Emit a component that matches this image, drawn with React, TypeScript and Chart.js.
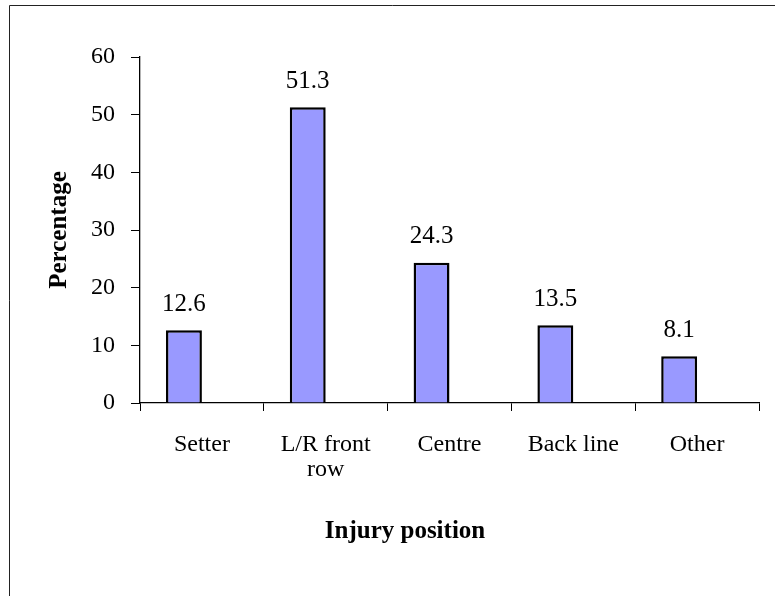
import React, { useEffect, useRef } from "react";
import { Chart, registerables } from "chart.js";

Chart.register(...registerables);

const categories: (string | string[])[] = ["Setter", ["L/R front", "row"], "Centre", "Back line", "Other"];
const percentages: number[] = [12.6, 51.3, 24.3, 13.5, 8.1];
const emptySeries: (number | null)[] = [null, null, null, null, null];
const yMin = 0;
const yMax = 60;
const yStep = 10;
const xTitle = "Injury position";
const yTitle = "Percentage";

const FONT = "'Liberation Serif', 'Times New Roman', serif";

const decorPlugin = {
  id: "decor",
  afterDraw(chart: any) {
    const ctx = chart.ctx;
    const area = chart.chartArea;
    ctx.save();
    // frame lines (left and top)
    ctx.strokeStyle = "#222";
    ctx.lineWidth = 1;
    ctx.beginPath();
    ctx.moveTo(9.5, chart.height);
    ctx.lineTo(9.5, 5.5);
    ctx.lineTo(chart.width, 5.5);
    ctx.stroke();

    // data labels
    const meta = chart.getDatasetMeta(0);
    ctx.fillStyle = "#000";
    ctx.font = `25px ${FONT}`;
    ctx.textAlign = "center";
    ctx.textBaseline = "middle";
    meta.data.forEach((bar: any, i: number) => {
      const v = chart.data.datasets[0].data[i];
      ctx.fillText(String(v), bar.x, bar.y - 26);
    });

    // axis titles
    ctx.font = `bold 25px ${FONT}`;
    ctx.fillText(xTitle, 405, 532);
    ctx.translate(60, (area.top + area.bottom) / 2);
    ctx.rotate(-Math.PI / 2);
    ctx.fillText(yTitle, 0, 0);
    ctx.restore();
  },
};

export default function App() {
  const ref = useRef<HTMLCanvasElement | null>(null);

  useEffect(() => {
    document.body.style.margin = "0";
    const canvas = ref.current;
    if (!canvas) return;
    const chart = new Chart(canvas, {
      type: "bar",
      data: {
        labels: categories,
        datasets: [
          {
            data: percentages,
            backgroundColor: "#9999FF",
            borderColor: "#000000",
            borderWidth: 2.5,
            categoryPercentage: 0.58,
            barPercentage: 1,
          },
          {
            data: emptySeries,
            backgroundColor: "#9999FF",
            borderColor: "#000000",
            borderWidth: 2.5,
            categoryPercentage: 0.58,
            barPercentage: 1,
          },
        ],
      },
      options: {
        responsive: false,
        animation: false,
        devicePixelRatio: 1,
        layout: { padding: { top: 57, right: 16, left: 0, bottom: 0 } },
        plugins: {
          legend: { display: false },
          tooltip: { enabled: false },
          title: { display: false },
        },
        scales: {
          x: {
            offset: true,
            afterFit(scale: any) {
              scale.height = 193;
            },
            grid: {
              display: true,
              drawOnChartArea: false,
              drawTicks: true,
              tickLength: 8,
              color: "#000",
              offset: true,
            },
            border: { display: true, color: "#000", width: 1.3 },
            ticks: {
              color: "#000",
              font: { family: FONT, size: 24, lineHeight: 1.05 },
              padding: 21,
              maxRotation: 0,
              autoSkip: false,
            },
          },
          y: {
            min: yMin,
            max: yMax,
            afterFit(scale: any) {
              scale.width = 140;
            },
            grid: {
              display: true,
              drawOnChartArea: false,
              drawTicks: true,
              tickLength: 9,
              color: "#000",
            },
            border: { display: true, color: "#000", width: 1.3 },
            ticks: {
              stepSize: yStep,
              color: "#000",
              font: { family: FONT, size: 24 },
              padding: 16,
            },
          },
        },
      },
      plugins: [decorPlugin],
    });
    return () => chart.destroy();
  }, []);

  return (
    <div style={{ position: "absolute", left: 0, top: 0, width: 775, height: 596, background: "#fff" }}>
      <canvas ref={ref} width={775} height={596} />
    </div>
  );
}
